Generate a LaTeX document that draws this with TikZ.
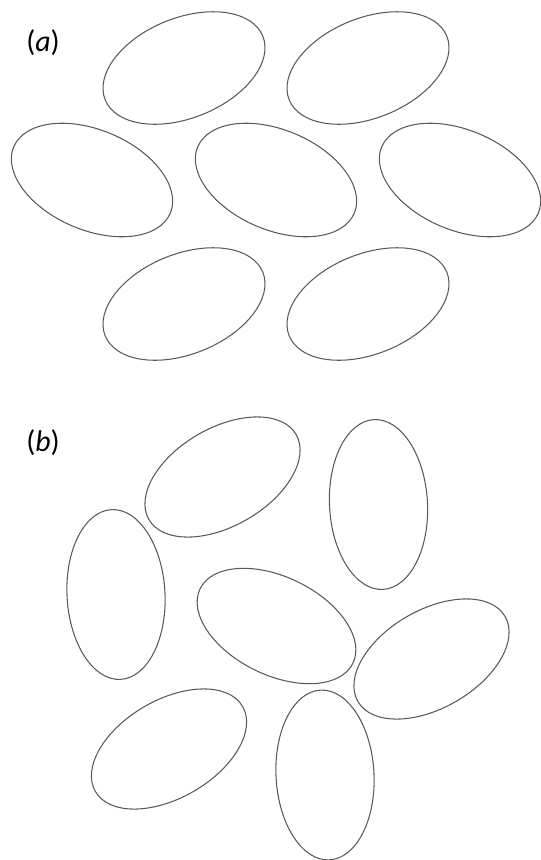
\documentclass[tikz,border=0pt]{standalone}
\usepackage{fontspec}
\setmainfont{Carlito}
\usepackage{tikz}

\begin{document}
\begin{tikzpicture}[x=0.02cm, y=0.02cm,
    cell/.style={draw=black!65, line width=0.6pt},
    panel/.style={font=\fontsize{17}{20}\selectfont}]
    % Khung hình (pixel của ảnh gốc, trục y hướng xuống)
    \useasboundingbox (0,0) rectangle (541,-860);

    % (a) Sắp xếp có trật tự
    \node[panel] (labA) at (43,-43) {(\textit{a})};
    \foreach \cx/\cy/\ang in {184/68/22, 368/68/22,
                              92/180/-23, 276/180/-23, 460/180/-23,
                              184/304/22, 368/304/22}
        \draw[cell, rotate around={\ang:(\cx,-\cy)}]
            (\cx,-\cy) ellipse [x radius=85, y radius=50];

    % (b) Sắp xếp ngẫu nhiên
    \node[panel] (labB) at (43,-443) {(\textit{b})};
    \foreach \cx/\cy/\ang in {222.5/477/30, 378.5/504.5/93,
                              116/594.5/93, 276.5/626/-26,
                              431.5/659/30, 169/749/30, 325/775/93}
        \draw[cell, rotate around={\ang:(\cx,-\cy)}]
            (\cx,-\cy) ellipse [x radius=85, y radius=49];

\end{tikzpicture}
\end{document}
